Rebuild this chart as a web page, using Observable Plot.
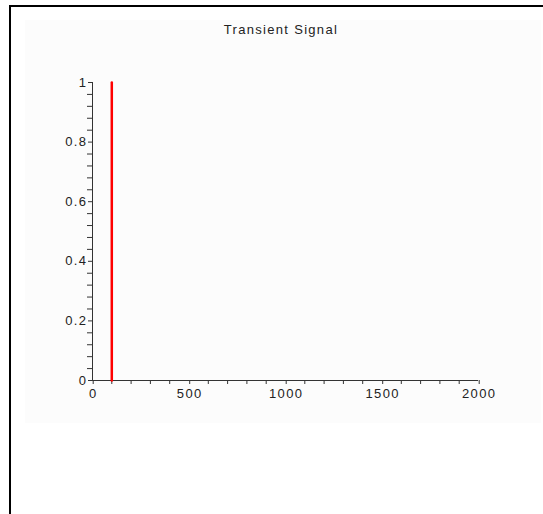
<!DOCTYPE html>
<html>
<head>
<meta charset="utf-8">
<script src="https://cdn.jsdelivr.net/npm/d3@7"></script>
<script src="https://cdn.jsdelivr.net/npm/@observablehq/plot@0.6"></script>
<style>
  html, body { margin: 0; padding: 0; background: #ffffff; }
  #wrap { position: relative; width: 543px; height: 514px; overflow: hidden;
          font-family: "Liberation Sans", Arial, sans-serif; }
  #bg { position: absolute; left: 25px; top: 20px; width: 516px; height: 403px; background: #fcfcfc; }
  #frame { position: absolute; left: 9px; top: 5px; width: 560px; height: 560px;
           border-top: 2px solid #000; border-left: 2px solid #000; }
  #title { position: absolute; left: 0; top: 22px; width: 562px; text-align: center;
           font-size: 13px; line-height: 15px; letter-spacing: 1.3px; color: #222; }
  #chart { position: absolute; left: 0; top: 0; }
  #chart text { letter-spacing: 1.4px; }
</style>
</head>
<body>
<div id="wrap">
  <div id="bg"></div>
  <div id="frame"></div>
  <div id="title">Transient Signal</div>
  <div id="chart"></div>
</div>
<script>
// Data
const signalTime = [100, 100];
const signalValue = [0, 1];

const xMajorTicks = [0, 500, 1000, 1500, 2000];
const xMinorTicks = [100, 200, 300, 400, 600, 700, 800, 900, 1100, 1200, 1300, 1400, 1600, 1700, 1800, 1900];
const yMajorTicks = [0, 0.2, 0.4, 0.6, 0.8, 1];
const yMinorTicks = [0.04, 0.08, 0.12, 0.16, 0.24, 0.28, 0.32, 0.36, 0.44, 0.48, 0.52, 0.56, 0.64, 0.68, 0.72, 0.76, 0.84, 0.88, 0.92, 0.96];

const signal = signalTime.map((t, i) => ({t, v: signalValue[i]}));

const axisColor = "#333";
const textColor = "#222";

const chart = Plot.plot({
  width: 543,
  height: 514,
  marginLeft: 92,
  marginRight: 65,
  marginTop: 82,
  marginBottom: 134,
  style: { background: "transparent", fontFamily: "'Liberation Sans', Arial, sans-serif", fontSize: "13px", color: textColor },
  x: { domain: [0, 2000], axis: null, label: null },
  y: { domain: [0, 1], axis: null, label: null },
  marks: [
    Plot.axisX(xMinorTicks, { tickSize: 4, tickFormat: () => "", label: null, stroke: axisColor }),
    Plot.axisX(xMajorTicks, { tickSize: 4, tickPadding: 4, label: null, fontSize: 13, dx: 0.7, tickFormat: d => String(d), stroke: axisColor, fill: textColor }),
    Plot.axisY(yMinorTicks, { tickSize: 5, tickFormat: () => "", label: null, stroke: axisColor }),
    Plot.axisY(yMajorTicks, { tickSize: 5, tickPadding: 1, label: null, fontSize: 13, dx: 1, tickFormat: d => String(d), stroke: axisColor, fill: textColor }),
    Plot.ruleY([0], { x1: 0, x2: 2000, stroke: axisColor, strokeWidth: 1 }),
    Plot.ruleX([0], { y1: 0, y2: 1, stroke: axisColor, strokeWidth: 1 }),
    Plot.line(signal, { x: "t", y: "v", stroke: "#ff0000", strokeWidth: 2.5 })
  ]
});
document.getElementById("chart").appendChild(chart);
</script>
</body>
</html>
